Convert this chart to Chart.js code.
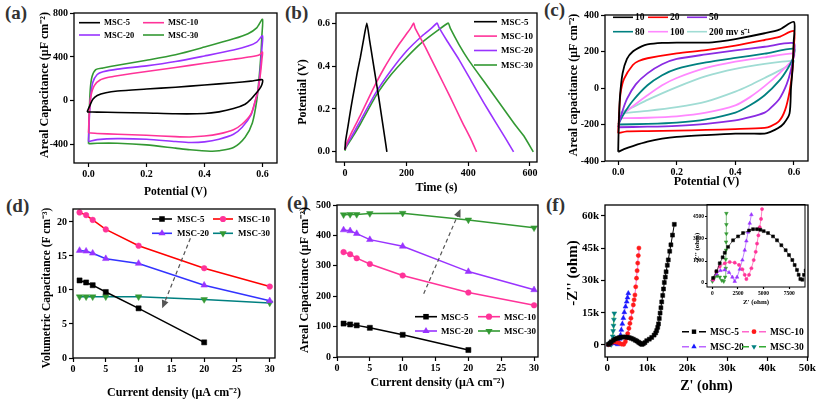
<!DOCTYPE html>
<html>
<head>
<meta charset="utf-8">
<title>MSC electrochemical performance</title>
<script src="https://cdn.jsdelivr.net/npm/chart.js@4.4.1/dist/chart.umd.min.js"></script>
<style>
  html, body { margin: 0; padding: 0; background: #fff; }
  body { position: relative; width: 823px; height: 399px; overflow: hidden; }
  canvas { position: absolute; }
  .tag { position: absolute; font: bold 19px/19px "Liberation Serif", serif; color: #333; }
</style>
</head>
<body>
<div class="tag" style="left:5px;top:3px">(a)</div>
<div class="tag" style="left:285px;top:3px">(b)</div>
<div class="tag" style="left:544px;top:0px">(c)</div>
<div class="tag" style="left:6px;top:196px">(d)</div>
<div class="tag" style="left:287px;top:193px">(e)</div>
<div class="tag" style="left:546px;top:195px">(f)</div>
<script>
// ---- data ----
const samples = ['MSC-5', 'MSC-10', 'MSC-20', 'MSC-30'];
const scanRates = ['10', '20', '50', '80', '100', '200 mv s⁻¹'];
const currents = [1, 2, 3, 5, 10, 20, 30];

// tick values per panel
const potTicks = [0, 0.2, 0.4, 0.6];
const aTicksY = [-400, 0, 400, 800];
const bTicksX = [0, 200, 400, 600];
const cTicksY = [-400, -200, 0, 200, 400];
const densTicks = [0, 5, 10, 15, 20, 25, 30];
const dTicksY = [0, 5, 10, 15, 20];
const eTicksY = [0, 100, 200, 300, 400, 500];
const fTicksX = [0, 10000, 20000, 30000, 40000, 50000];
const fTicksY = [0, 15000, 30000, 45000, 60000];
const insTicksX = [0, 2500, 5000, 7500];
const insTicksY = [0, 1500, 3000, 4500];

// (a) CV loops, [potential V, areal capacitance uF/cm2]
const cvA5 = [[-0.005,-100],[0.005,-40],[0.015,15],[0.03,50],[0.06,75],[0.1,90],[0.2,108],[0.3,125],[0.4,145],[0.5,165],[0.56,180],[0.6,193],[0.598,150],[0.59,110],[0.575,60],[0.56,15],[0.54,-30],[0.5,-70],[0.45,-100],[0.4,-115],[0.3,-117],[0.2,-110],[0.1,-105],[0.03,-102],[-0.005,-100]];
const cvA10 = [[0,-290],[0.003,-100],[0.008,40],[0.02,140],[0.04,190],[0.07,215],[0.1,229],[0.2,268],[0.3,304],[0.4,343],[0.5,379],[0.56,402],[0.59,420],[0.6,445],[0.598,380],[0.593,250],[0.585,100],[0.575,0],[0.56,-120],[0.53,-210],[0.5,-262],[0.45,-300],[0.4,-320],[0.35,-328],[0.3,-325],[0.2,-313],[0.1,-304],[0.03,-296],[0,-290]];
const cvA20 = [[0,-370],[0.003,-150],[0.008,50],[0.015,170],[0.03,240],[0.05,265],[0.1,289],[0.2,319],[0.3,358],[0.4,409],[0.5,463],[0.55,499],[0.58,535],[0.6,592],[0.598,480],[0.593,300],[0.585,100],[0.575,0],[0.56,-130],[0.53,-240],[0.5,-304],[0.45,-349],[0.4,-373],[0.35,-379],[0.3,-370],[0.2,-349],[0.1,-343],[0.03,-352],[0,-370]];
const cvA30 = [[0,-390],[0.002,-150],[0.006,100],[0.012,220],[0.025,285],[0.05,300],[0.1,325],[0.2,370],[0.3,420],[0.4,490],[0.5,565],[0.55,612],[0.58,665],[0.6,743],[0.598,600],[0.594,400],[0.588,200],[0.58,0],[0.565,-200],[0.54,-330],[0.5,-424],[0.45,-454],[0.42,-458],[0.35,-445],[0.3,-430],[0.2,-400],[0.1,-385],[0.03,-385],[0,-390]];

// (b) charge/discharge, [time s, potential V]
const gcd5 = [[0,0.01],[2,0.05],[10,0.12],[20,0.21],[30,0.29],[40,0.37],[50,0.44],[60,0.52],[71,0.6],[80,0.52],[90,0.43],[100,0.34],[110,0.25],[120,0.155],[130,0.06],[136,0]];
const gcd10 = [[0,0.01],[3,0.03],[25,0.1],[50,0.17],[75,0.245],[100,0.318],[125,0.385],[150,0.445],[175,0.5],[200,0.55],[215,0.58],[223,0.6],[228,0.575],[260,0.49],[300,0.375],[340,0.26],[380,0.14],[410,0.055],[427,0]];
const gcd20 = [[0,0.01],[3,0.025],[25,0.08],[50,0.145],[100,0.275],[150,0.38],[200,0.47],[250,0.54],[280,0.575],[299,0.6],[305,0.58],[330,0.52],[370,0.43],[410,0.33],[450,0.23],[490,0.135],[520,0.065],[547,0]];
const gcd30 = [[0,0.005],[3,0.02],[25,0.07],[50,0.13],[100,0.26],[150,0.36],[200,0.44],[250,0.51],[300,0.565],[335,0.6],[342,0.575],[370,0.5],[400,0.43],[450,0.33],[500,0.23],[550,0.13],[580,0.075],[611,0]];

// (c) CV of one device at several scan rates
const cvC10 = [[0,-350],[0.002,-200],[0.006,-50],[0.015,80],[0.03,160],[0.05,200],[0.08,228],[0.1,239],[0.15,247],[0.2,249],[0.3,249],[0.35,256],[0.4,268],[0.5,300],[0.55,320],[0.6,362],[0.599,250],[0.596,120],[0.59,0],[0.585,-139],[0.565,-195],[0.545,-221],[0.52,-240],[0.5,-250],[0.45,-250],[0.4,-250],[0.3,-258],[0.2,-268],[0.15,-278],[0.1,-294],[0.05,-318],[0.02,-335],[0,-350]];
const cvC20 = [[0,-248],[0.003,-150],[0.008,-30],[0.02,50],[0.05,126],[0.07,148],[0.1,163],[0.2,190],[0.3,208],[0.4,232],[0.5,263],[0.55,280],[0.6,312],[0.599,220],[0.595,100],[0.585,-20],[0.57,-120],[0.55,-180],[0.52,-210],[0.5,-218],[0.4,-225],[0.3,-230],[0.2,-234],[0.1,-236],[0.03,-238],[0,-248]];
const cvC50 = [[0,-215],[0.01,-150],[0.03,-60],[0.06,20],[0.1,80],[0.15,130],[0.2,159],[0.3,184],[0.4,206],[0.5,226],[0.6,246],[0.599,180],[0.59,100],[0.575,20],[0.55,-60],[0.52,-110],[0.5,-135],[0.45,-160],[0.4,-178],[0.3,-197],[0.2,-207],[0.1,-212],[0,-215]];
const cvC80 = [[0,-200],[0.02,-140],[0.05,-70],[0.1,15],[0.15,70],[0.2,105],[0.3,140],[0.4,165],[0.5,188],[0.6,215],[0.598,170],[0.58,110],[0.55,40],[0.5,-40],[0.45,-95],[0.4,-135],[0.3,-172],[0.2,-190],[0.1,-197],[0,-200]];
const cvC100 = [[0,-165],[0.05,-100],[0.1,-40],[0.15,15],[0.2,55],[0.3,110],[0.4,145],[0.5,168],[0.6,190],[0.598,160],[0.55,80],[0.5,10],[0.45,-50],[0.4,-95],[0.3,-135],[0.2,-155],[0.1,-163],[0,-166]];
const cvC200 = [[0,-140],[0.05,-105],[0.1,-65],[0.2,5],[0.3,65],[0.4,105],[0.5,132],[0.6,150],[0.598,140],[0.55,95],[0.5,55],[0.45,15],[0.4,-20],[0.3,-75],[0.2,-105],[0.1,-125],[0,-140]];

// (d) volumetric capacitance F/cm3 vs current density
const volMsc5 = [11.4, 11.1, 10.7, 9.7, 7.3, 2.3, null];
const volMsc10 = [21.4, 21.0, 20.3, 18.9, 16.5, 13.2, 10.5];
const volMsc20 = [15.8, 15.7, 15.4, 14.6, 13.9, 10.7, 8.4];
const volMsc30 = [9.0, 9.0, 9.0, 9.0, 9.0, 8.6, 8.1];
const arrowD = [[17.9, 17.6], [13.6, 7.3]];

// (e) areal capacitance uF/cm2 vs current density
const arealMsc5 = [110, 107, 104, 96, 73, 23, null];
const arealMsc10 = [345, 338, 325, 306, 268, 212, 170];
const arealMsc20 = [418, 415, 406, 386, 364, 281, 221];
const arealMsc30 = [468, 469, 469, 472, 473, 451, 425];
const arrowE = [[13.2, 208], [18.8, 487]];

// (f) Nyquist, [Z' ohm, -Z'' ohm]
const nyq5 = [[300,300],[700,900],[1000,1500],[1500,2200],[2000,2800],[2500,3150],[3000,3400],[3500,3600],[4000,3700],[4500,3700],[5000,3600],[5500,3400],[6000,3100],[6500,2700],[7000,2200],[7400,1800],[7800,1300],[8100,900],[8400,500],[8700,300],[9000,600],[9400,1100],[9850,2000],[10500,2700],[11100,3500],[11700,4600],[12100,5600],[12350,6700],[12600,8200],[12800,9800],[13000,12300],[13200,14800],[13400,17300],[13600,20000],[13850,23000],[14050,26000],[14250,29000],[14500,31500],[14700,34000],[15000,37000],[15250,39500],[15600,43500],[15900,46500],[16300,51000],[16750,56000]];
const nyq10 = [[300,200],[800,800],[1500,1300],[2300,1300],[3000,900],[3600,400],[4100,300],[4500,1500],[4800,3100],[5100,5300],[5400,7700],[5650,10000],[5900,12400],[6200,15500],[6500,18600],[6700,21000],[6900,23200],[7100,27000],[7300,31000],[7450,34500],[7600,38000],[7750,41500],[7900,45000]];
const nyq20 = [[300,200],[800,700],[1400,900],[2000,700],[2600,300],[2900,1200],[3100,2800],[3300,4600],[3500,7000],[3750,9800],[4000,12500],[4250,15200],[4550,17800],[4850,20100],[5050,22000],[5250,24000]];
const nyq30 = [[200,300],[500,700],[800,500],[1000,200],[1200,1500],[1350,4000],[1450,6500],[1550,9000],[1650,11800],[1750,14700]];
// inset, low impedance part
const ins5 = [[65,336],[390,800],[716,1343],[1000,1750],[1204,2060],[1530,2463],[2018,2910],[2507,3179],[2995,3403],[3581,3582],[3971,3671],[4362,3671],[4688,3627],[5013,3537],[5436,3403],[5924,3179],[6315,2910],[6738,2574],[7161,2239],[7487,1903],[7812,1567],[8040,1231],[8268,895],[8431,560],[8594,269],[8789,224],[8952,560],[9115,851]];
const ins10 = [[65,224],[391,783],[716,1119],[1204,1343],[1693,1433],[2181,1388],[2604,1231],[2930,940],[3158,560],[3320,269],[3581,560],[3809,1007],[4036,1567],[4232,2127],[4362,2686],[4492,3246],[4622,3806],[4753,4365],[4850,5037]];
const ins20 = [[65,224],[391,627],[781,851],[1204,895],[1628,716],[1953,403],[2181,112],[2409,403],[2669,940],[2930,1567],[3158,2239],[3320,2865],[3483,3470],[3646,4074],[3809,4656]];
const ins30 = [[0,112],[228,403],[456,492],[716,403],[911,179],[1107,112],[1237,403],[1302,1007],[1302,1612],[1335,2239],[1335,2798],[1367,3358],[1367,3985],[1367,4746]];

// ---- helpers ----
const SERIF = '"Liberation Serif", "Times New Roman", serif';
const pts = arr => arr.map(p => ({x: p[0], y: p[1]}));
const zip = (xs, ys) => xs.map((x, i) => ({x: x, y: ys[i]})).filter(p => p.y != null);
const one = v => v.toFixed(1);
const kilo = v => v === 0 ? '0' : (v / 1000) + 'k';

function drawMarker(ctx, style, r, rot, x, y) {
  ctx.beginPath();
  if (style === 'rect') {
    const s = r * Math.SQRT1_2;
    ctx.rect(x - s, y - s, 2 * s, 2 * s);
  } else if (style === 'triangle') {
    const a = (rot || 0) * Math.PI / 180;
    for (let k = 0; k < 3; k++) {
      const t = a + k * 2 * Math.PI / 3;
      const px = x + Math.sin(t) * r, py = y - Math.cos(t) * r;
      if (k) ctx.lineTo(px, py); else ctx.moveTo(px, py);
    }
    ctx.closePath();
  } else {
    ctx.arc(x, y, r, 0, Math.PI * 2);
  }
  ctx.fill();
}

const framePlugin = {
  id: 'frame',
  afterDatasetsDraw(chart, args, o) {
    const {ctx, chartArea: a} = chart;
    ctx.save();
    ctx.strokeStyle = '#000';
    ctx.lineWidth = o.width || 1.3;
    ctx.strokeRect(a.left, a.top, a.right - a.left, a.bottom - a.top);
    ctx.restore();
  }
};

// rotated y title, drawn here so it is not squeezed to the plot height
const yTitlePlugin = {
  id: 'yTitle',
  afterDraw(chart, args, o) {
    if (!o.text) return;
    const ctx = chart.ctx;
    ctx.save();
    ctx.translate(o.x, o.y);
    ctx.rotate(-Math.PI / 2);
    ctx.font = o.textFont;
    ctx.fillStyle = '#000';
    ctx.textAlign = 'center';
    ctx.textBaseline = 'middle';
    ctx.fillText(o.text, 0, 0);
    ctx.restore();
  }
};

// legend drawn at fixed spots inside the plot, like the Origin originals
const legendPlugin = {
  id: 'boxLegend',
  afterDraw(chart, args, o) {
    if (!o.cols) return;
    const ctx = chart.ctx;
    ctx.save();
    ctx.font = o.textFont;
    ctx.textBaseline = 'middle';
    chart.data.datasets.forEach((d, i) => {
      const x = o.cols[i % o.cols.length] - o.ox;
      const y = o.rows[Math.floor(i / o.cols.length)] - o.oy;
      const mid = x + o.line / 2;
      ctx.strokeStyle = d.borderColor;
      ctx.lineWidth = 1.6;
      ctx.beginPath();
      if (o.split) {
        ctx.moveTo(x, y); ctx.lineTo(mid - 5, y);
        ctx.moveTo(mid + 5, y); ctx.lineTo(x + o.line, y);
      } else {
        ctx.moveTo(x, y); ctx.lineTo(x + o.line, y);
      }
      ctx.stroke();
      if (d.pointRadius > 0) {
        ctx.fillStyle = d.pointBackgroundColor;
        drawMarker(ctx, d.pointStyle, d.pointRadius + 0.3, d.pointRotation, mid, y);
      }
      ctx.fillStyle = '#000';
      ctx.fillText(d.label, x + o.line + o.gap, y + 0.5);
    });
    ctx.restore();
  }
};

const arrowPlugin = {
  id: 'trendArrow',
  afterDatasetsDraw(chart, args, o) {
    if (!o.from) return;
    const {ctx, scales: {x: sx, y: sy}} = chart;
    const x1 = sx.getPixelForValue(o.from[0]), y1 = sy.getPixelForValue(o.from[1]);
    const x2 = sx.getPixelForValue(o.to[0]), y2 = sy.getPixelForValue(o.to[1]);
    const ang = Math.atan2(y2 - y1, x2 - x1);
    const c = Math.cos(ang), s = Math.sin(ang);
    ctx.save();
    ctx.strokeStyle = '#555';
    ctx.fillStyle = '#555';
    ctx.lineWidth = 1.2;
    ctx.setLineDash([4, 3]);
    ctx.beginPath();
    ctx.moveTo(x1, y1);
    ctx.lineTo(x2 - c * 6, y2 - s * 6);
    ctx.stroke();
    ctx.setLineDash([]);
    ctx.beginPath();
    ctx.moveTo(x2, y2);
    ctx.lineTo(x2 - c * 8 + s * 3.5, y2 - s * 8 - c * 3.5);
    ctx.lineTo(x2 - c * 8 - s * 3.5, y2 - s * 8 + c * 3.5);
    ctx.closePath();
    ctx.fill();
    ctx.restore();
  }
};

function axis(s, dir, size) {
  return {
    type: 'linear',
    position: dir === 'x' ? 'bottom' : 'left',
    bounds: 'data',
    min: s.min, max: s.max,
    ticks: {
      autoSkip: false, maxRotation: 0,
      padding: s.pad == null ? 2 : s.pad, color: '#000',
      font: {family: SERIF, weight: 'bold', size: s.tickSize || 10},
      callback: s.fmt || (v => v)
    },
    grid: {drawOnChartArea: false, drawTicks: true, tickLength: s.tickLen || 4, tickColor: '#000', tickWidth: 1.2},
    border: {display: false},
    title: {display: dir === 'x', text: s.title, color: '#000', padding: 0,
            font: {family: SERIF, weight: 'bold', size: s.titleSize || 12}},
    afterBuildTicks(sc) { sc.ticks = s.ticks.map(v => ({value: v})); },
    afterFit(sc) {
      if (dir === 'x') sc.height = size; else sc.width = size;
      sc.paddingLeft = sc.paddingRight = sc.paddingTop = sc.paddingBottom = 0;
    }
  };
}

// box: canvas rect on the page, area: plot frame on the page
function panel(box, area, xs, ys, datasets, legend, arrow, frameWidth) {
  const cv = document.createElement('canvas');
  cv.width = box.w; cv.height = box.h;
  cv.style.left = box.x + 'px';
  cv.style.top = box.y + 'px';
  document.body.appendChild(cv);
  return new Chart(cv, {
    type: 'scatter',
    data: {datasets: datasets},
    options: {
      animation: false, responsive: false, events: [],
      layout: {padding: {left: 0, bottom: 0, top: area.t - box.y, right: box.x + box.w - area.r}},
      scales: {x: axis(xs, 'x', box.y + box.h - area.b), y: axis(ys, 'y', area.l - box.x)},
      plugins: {
        legend: {display: false}, tooltip: {enabled: false},
        frame: {width: frameWidth || 1.3},
        yTitle: {text: ys.title, x: ys.titleX - box.x, y: ys.titleY - box.y,
                 textFont: 'bold ' + (ys.titleSize || 12) + 'px ' + SERIF},
        boxLegend: legend ? Object.assign({ox: box.x, oy: box.y}, legend) : {},
        trendArrow: arrow ? {from: arrow[0], to: arrow[1]} : {}
      }
    },
    plugins: [framePlugin, yTitlePlugin, legendPlugin, arrowPlugin]
  });
}

function curve(label, data, color, width) {
  return {label: label, data: pts(data), borderColor: color, backgroundColor: color,
          borderWidth: width || 1.6, pointRadius: 0, showLine: true, tension: 0.25};
}

function series(label, data, line, mark, style, r, rot) {
  return {label: label, data: data, borderColor: line, borderWidth: 1.5, showLine: true, tension: 0,
          pointStyle: style, pointRadius: r, pointRotation: rot || 0,
          pointBackgroundColor: mark, pointBorderColor: mark, pointBorderWidth: 0.5};
}

const sampleColors = ['#000000', '#ff3399', '#9933ff', '#339933'];
const rateColors = ['#000000', '#ff0000', '#8a2be2', '#008080', '#ff88ff', '#a0dcd4'];

// (a)
panel({x: 30, y: 0, w: 257, h: 199}, {l: 74, t: 13, r: 277, b: 163},
  {min: -0.05, max: 0.65, ticks: potTicks, fmt: one, title: 'Potential (V)', titleSize: 11.5, pad: 1},
  {min: -565, max: 800, ticks: aTicksY, title: 'Areal Capacitance (μF cm⁻²)', titleX: 45, titleY: 85},
  [cvA5, cvA10, cvA20, cvA30].map((d, i) => curve(samples[i], d, sampleColors[i])),
  {cols: [79, 143], rows: [22.7, 35], line: 21, gap: 4, textFont: 'bold 8.5px ' + SERIF});

// (b)
panel({x: 290, y: 0, w: 256, h: 195}, {l: 336, t: 13, r: 537, b: 162},
  {min: -29, max: 623, ticks: bTicksX, title: 'Time (s)', pad: 1},
  {min: -0.047, max: 0.647, ticks: potTicks, fmt: one, title: 'Potential (V)', titleX: 303, titleY: 92},
  [gcd5, gcd10, gcd20, gcd30].map((d, i) => Object.assign(curve(samples[i], d, sampleColors[i]), {tension: 0.15})),
  {cols: [474], rows: [21.7, 36.1, 50.5, 65], line: 23, gap: 4, textFont: 'bold 9px ' + SERIF});

// (c)
panel({x: 562, y: 0, w: 261, h: 189}, {l: 605, t: 15, r: 808, b: 161},
  {min: -0.045, max: 0.648, ticks: potTicks, fmt: one, title: 'Potential (V)', pad: 1},
  {min: -400, max: 400, ticks: cTicksY, title: 'Areal capacitance (μF cm⁻²)', titleX: 574, titleY: 85},
  [cvC10, cvC20, cvC50, cvC80, cvC100, cvC200].map((d, i) => curve(scanRates[i], d, rateColors[i], 1.8)),
  {cols: [613, 648, 687], rows: [17.3, 31.7], line: 20, gap: 2, textFont: 'bold 9.5px ' + SERIF});

// (d)
panel({x: 35, y: 190, w: 250, h: 210}, {l: 73, t: 209, r: 275, b: 358},
  {min: 0, max: 30.8, ticks: densTicks, title: 'Current density (μA cm⁻²)', pad: 1},
  {min: 0, max: 21.9, ticks: dTicksY, title: 'Volumetric Capacitance (F cm⁻³)', titleX: 47, titleY: 288, titleSize: 11.5},
  [series(samples[0], zip(currents, volMsc5), '#000000', '#000000', 'rect', 3.6),
   series(samples[1], zip(currents, volMsc10), '#ff0000', '#ff3399', 'circle', 2.8),
   series(samples[2], zip(currents, volMsc20), '#3333ff', '#9933ff', 'triangle', 3.8),
   series(samples[3], zip(currents, volMsc30), '#008080', '#339933', 'triangle', 3.8, 180)],
  {cols: [152, 213], rows: [219, 233.3], line: 20, gap: 5, textFont: 'bold 9px ' + SERIF},
  arrowD);

// (e)
panel({x: 293, y: 190, w: 255, h: 200}, {l: 337, t: 205, r: 538, b: 357},
  {min: 0, max: 30.6, ticks: densTicks, title: 'Current density (μA cm⁻²)', pad: 1},
  {min: 0, max: 500, ticks: eTicksY, title: 'Areal Capacitance (μF cm⁻²)', titleX: 305, titleY: 280},
  [series(samples[0], zip(currents, arealMsc5), '#000000', '#000000', 'rect', 3.6),
   series(samples[1], zip(currents, arealMsc10), '#ff3399', '#ff3399', 'circle', 2.8),
   series(samples[2], zip(currents, arealMsc20), '#9933ff', '#9933ff', 'triangle', 3.8),
   series(samples[3], zip(currents, arealMsc30), '#339933', '#339933', 'triangle', 3.8, 180)],
  {cols: [415, 478], rows: [316.7, 331], line: 22, gap: 4, textFont: 'bold 9px ' + SERIF},
  arrowE);

// (f)
panel({x: 560, y: 197, w: 263, h: 198}, {l: 605, t: 205, r: 808, b: 357},
  {min: -580, max: 50180, ticks: fTicksX, fmt: kilo, title: "Z' (ohm)", titleSize: 14, tickSize: 11, pad: 1},
  {min: -5570, max: 64970, ticks: fTicksY, fmt: kilo, title: "-Z'' (ohm)", titleSize: 15, tickSize: 11, titleX: 573, titleY: 273},
  [Object.assign(series(samples[0], pts(nyq5), '#000000', '#000000', 'rect', 2.8), {borderWidth: 1}),
   Object.assign(series(samples[1], pts(nyq10), '#ff66cc', '#ff1a1a', 'circle', 2.1), {borderWidth: 1}),
   Object.assign(series(samples[2], pts(nyq20), '#bb66ff', '#1a1aff', 'triangle', 2.8), {borderWidth: 1}),
   Object.assign(series(samples[3], pts(nyq30), '#33aa33', '#008080', 'triangle', 2.8, 180), {borderWidth: 1})],
  {cols: [682, 742], rows: [331.7, 346.7], line: 24, gap: 4, split: true, textFont: 'bold 9.5px ' + SERIF});

// (f) inset
panel({x: 690, y: 200, w: 120, h: 106}, {l: 707, t: 204, r: 805, b: 287},
  {min: -530, max: 9050, ticks: insTicksX, title: "Z' (ohm)", titleSize: 7, tickSize: 5.5, tickLen: 2, pad: 1},
  {min: -270, max: 5350, ticks: insTicksY, title: "-Z'' (ohm)", titleSize: 7, tickSize: 5.5, tickLen: 2, pad: 1, titleX: 697, titleY: 248},
  [ins5, ins10, ins20, ins30].map((d, i) => Object.assign(
    series(samples[i], pts(d), sampleColors[i], sampleColors[i], ['rect', 'circle', 'triangle', 'triangle'][i], i === 1 ? 1.6 : 2.1, i === 3 ? 180 : 0),
    {borderWidth: 0.6})),
  null, null, 1);
</script>
</body>
</html>
